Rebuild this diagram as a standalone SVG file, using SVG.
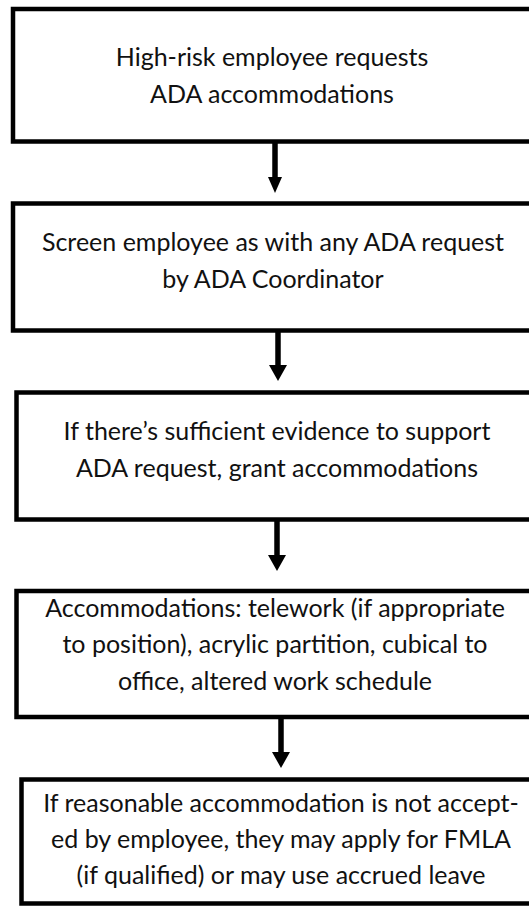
<svg xmlns="http://www.w3.org/2000/svg" width="529" height="906" viewBox="0 0 529 906">
<style>
.box{fill:#fff;stroke:#000;stroke-width:4.5}
.t{font-family:Lato,"Open Sans","Liberation Sans",sans-serif;font-size:25px;fill:#111;text-anchor:middle}
.shaft{stroke:#000;stroke-width:5.5}
.head{fill:#000}
</style>
<rect width="529" height="906" fill="#fff"/>
<g id="connectors">
<line class="shaft" x1="275" y1="143" x2="275" y2="179"/>
<polygon class="head" points="268,177 282,177 275,193"/>
<line class="shaft" x1="278" y1="332" x2="278" y2="367"/>
<polygon class="head" points="269,365 287,365 278,381"/>
<line class="shaft" x1="277" y1="521" x2="277" y2="557"/>
<polygon class="head" points="268,555 286,555 277,571"/>
<line class="shaft" x1="281" y1="719" x2="281" y2="754"/>
<polygon class="head" points="272,752 290,752 281,768"/>
</g>
<g id="node1">
<rect class="box" x="13" y="9" width="540" height="132.5"/>
<text class="t" x="272" y="66">High-risk employee requests</text>
<text class="t" x="272" y="103">ADA accommodations</text>
</g>
<g id="node2">
<rect class="box" x="13" y="203.5" width="540" height="127"/>
<text class="t" x="273" y="251">Screen employee as with any ADA request</text>
<text class="t" x="273" y="288">by ADA Coordinator</text>
</g>
<g id="node3">
<rect class="box" x="16.5" y="392.5" width="540" height="127"/>
<text class="t" x="277" y="440">If there’s sufficient evidence to support</text>
<text class="t" x="277" y="477">ADA request, grant accommodations</text>
</g>
<g id="node4">
<rect class="box" x="16.5" y="591" width="540" height="126"/>
<text class="t" x="275" y="617">Accommodations: telework (if appropriate</text>
<text class="t" x="275" y="653">to position), acrylic partition, cubical to</text>
<text class="t" x="275" y="690">office, altered work schedule</text>
</g>
<g id="node5">
<rect class="box" x="21.5" y="779.5" width="540" height="124"/>
<text class="t" x="281" y="812">If reasonable accommodation is not accept-</text>
<text class="t" x="281" y="848">ed by employee, they may apply for FMLA</text>
<text class="t" x="281" y="884">(if qualified) or may use accrued leave</text>
</g>
</svg>
